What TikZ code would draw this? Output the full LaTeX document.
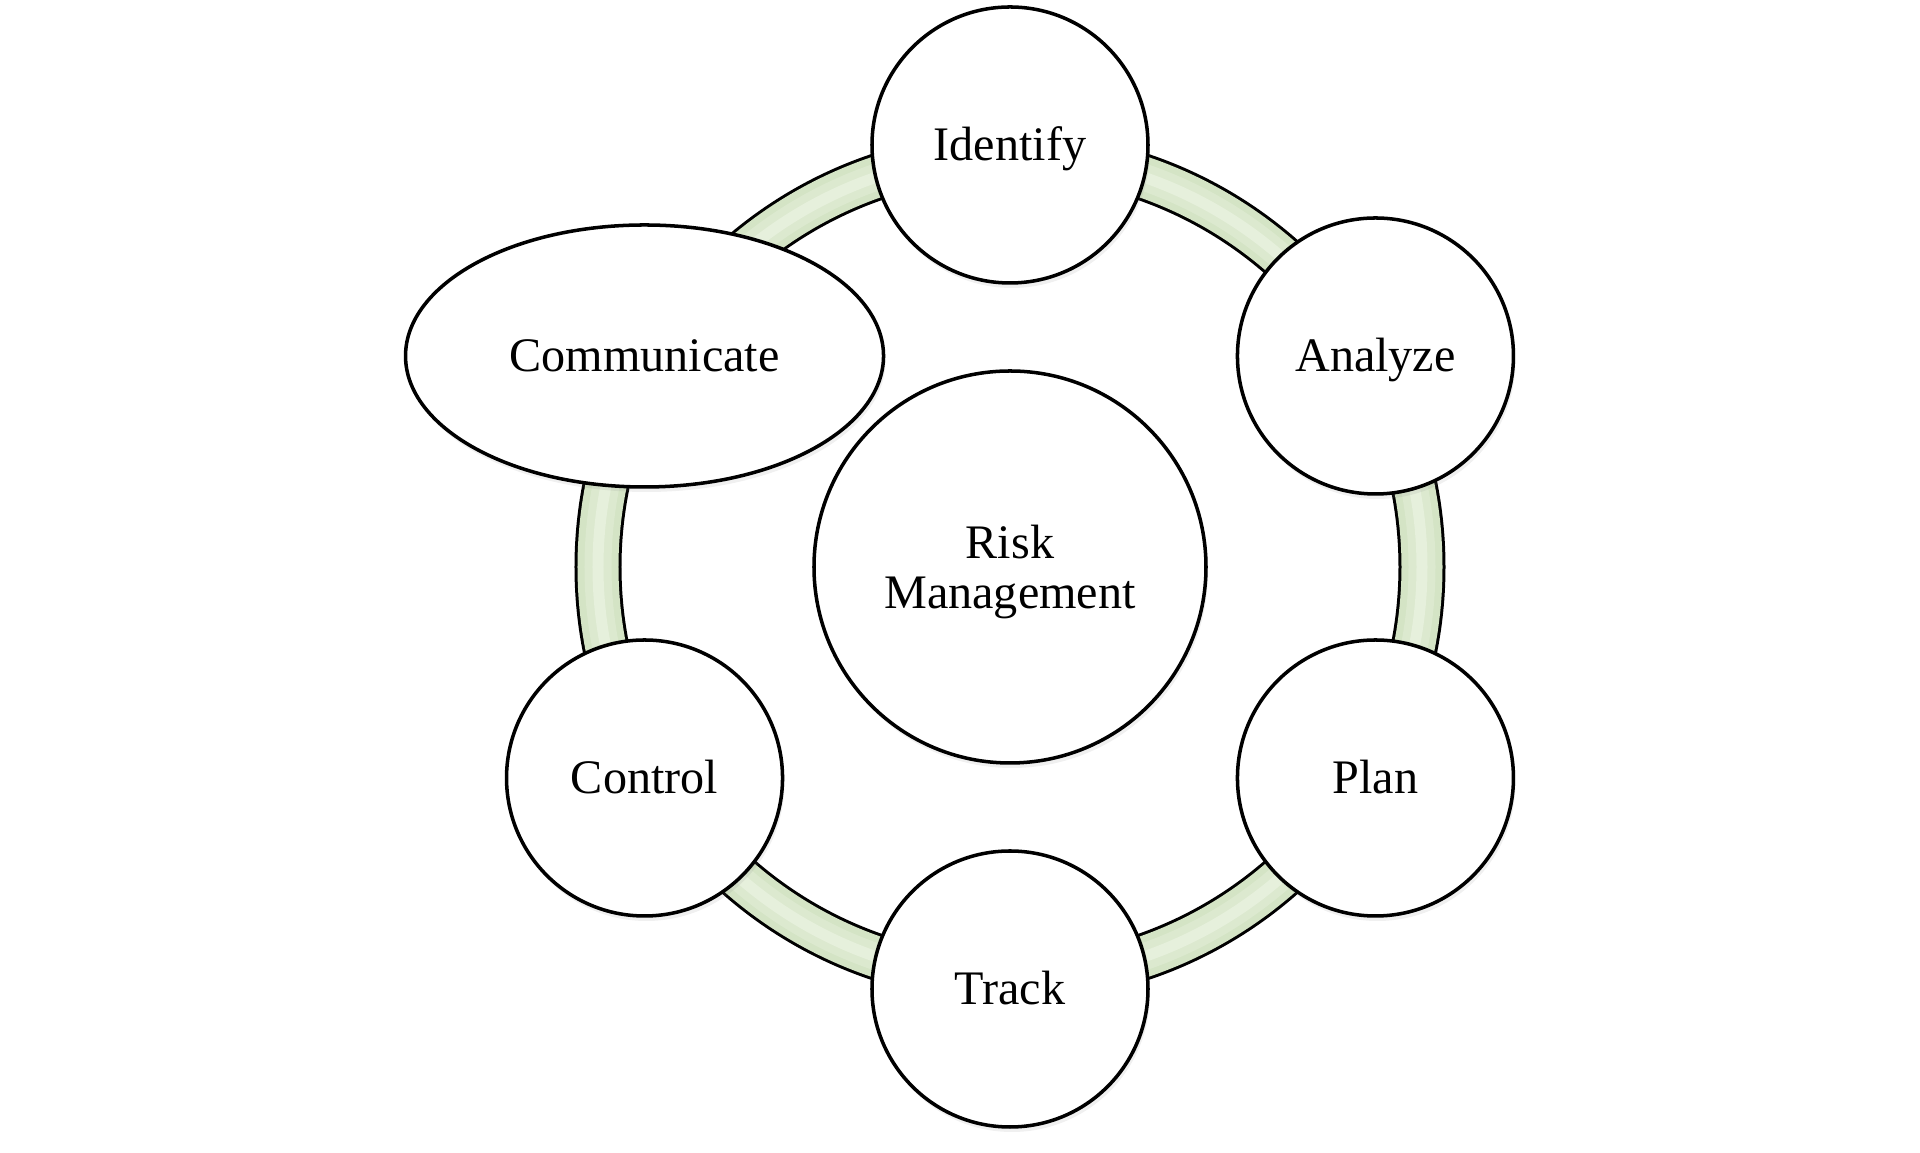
\documentclass[tikz,border=0pt]{standalone}
\usepackage{fontspec}
\setmainfont{Liberation Serif}
\usetikzlibrary{shapes.geometric,shadows}
\definecolor{ringgreen}{HTML}{D4E4C5}
\definecolor{ringmid}{HTML}{DCE9CF}
\definecolor{ringlight}{HTML}{E6F0DC}
\tikzset{
  step node/.style={circle,draw=black,line width=1pt,fill=white,minimum size=2.76cm,inner sep=0pt,
    text height=11.8pt,text depth=3pt,font=\fontsize{13.7}{14.2}\selectfont,
    drop shadow={opacity=0.12,shadow xshift=0.02cm,shadow yshift=-0.05cm}},
  hub node/.style={circle,draw=black,line width=1pt,fill=white,minimum size=3.92cm,inner sep=0pt,align=center,
    font=\fontsize{13.7}{14.2}\selectfont,
    drop shadow={opacity=0.12,shadow xshift=0.02cm,shadow yshift=-0.05cm}},
}
\begin{document}
\begin{tikzpicture}
	\useasboundingbox (-10.10,-5.86) rectangle (9.10,5.67);
	% ring behind the steps
	\draw[line width=0.47cm,black] (0,0) circle (4.12);
	\draw[line width=0.41cm,ringgreen] (0,0) circle (4.12);
	\draw[line width=0.27cm,ringmid] (0,0) circle (4.12);
	\draw[line width=0.11cm,ringlight] (0,0) circle (4.12);
	\node[hub node] (hub) at (0,0) {\rule{0pt}{12.3pt}Risk\\Management};
	\node[step node] (identify) at (90:4.22) {Identify};
	\node[step node] (analyze) at (30:4.22) {Analyze};
	\node[step node] (plan) at (-30:4.22) {Plan};
	\node[step node] (track) at (-90:4.22) {Track};
	\node[step node] (control) at (210:4.22) {Control};
	\node[step node,ellipse,minimum width=4.78cm,minimum height=2.62cm] (communicate) at (150:4.22) {Communicate};
\end{tikzpicture}
\end{document}
